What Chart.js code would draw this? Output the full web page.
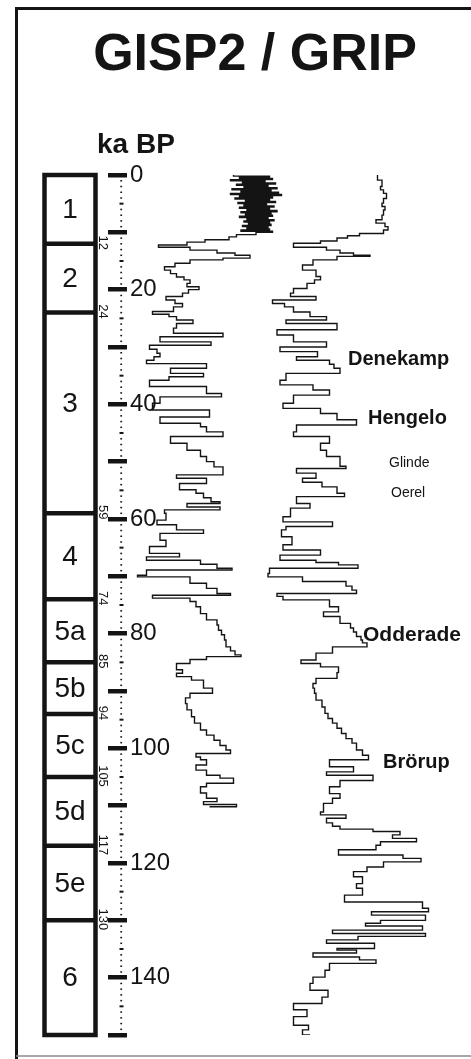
<!DOCTYPE html>
<html>
<head>
<meta charset="utf-8">
<script src="https://cdn.jsdelivr.net/npm/chart.js@4.4.1/dist/chart.umd.min.js"></script>
<style>
  html, body { margin: 0; padding: 0; background: #fff; }
  canvas { display: block; }
</style>
</head>
<body>
<canvas id="ice" width="471" height="1059"></canvas>
<script>
// GISP2 delta-18O (permil) against age (ka BP)
const gisp2Age = [
  0.0, 0.2, 0.4, 0.6, 0.8, 1.0, 1.2, 1.4, 1.6, 1.8, 2.0, 2.2, 2.4, 2.6, 2.8, 3.0, 3.2, 3.4, 3.6, 3.8,
  4.0, 4.2, 4.4, 4.6, 4.8, 5.0, 5.2, 5.4, 5.6, 5.8, 6.0, 6.2, 6.4, 6.6, 6.8, 7.0, 7.2, 7.4, 7.6, 7.8,
  8.0, 8.2, 8.4, 8.6, 8.8, 9.0, 9.2, 9.4, 9.6, 9.8, 10.0,
  10.4, 10.8, 11.3, 11.7, 12.2, 12.6, 13.1, 13.6, 14.0, 14.5, 14.8, 15.4, 16.0, 16.6, 17.2, 17.8, 18.3, 18.9, 19.5, 20.0,
  20.6, 21.2, 21.8, 22.4, 23.0, 23.8, 24.3, 24.7, 25.3, 25.9, 26.7, 27.6, 28.2, 29.1, 29.7, 30.4, 31.1, 31.7, 32.3, 32.9,
  33.7, 34.6, 35.2, 35.8, 36.9, 38.1, 38.7, 39.8, 41.0, 42.2, 43.3, 43.9, 44.8, 45.6, 46.8, 48.0, 49.1, 50.0, 50.9, 52.3,
  52.9, 53.8, 54.9, 55.5, 56.3, 57.0, 57.3, 57.9, 58.4, 59.0, 60.2, 61.0, 61.9, 62.5, 63.7, 64.8, 66.0, 66.6, 67.2, 67.9,
  68.6, 68.9, 69.8, 70.1, 71.2, 72.1, 73.0, 73.3, 73.8, 74.4, 75.3, 76.5, 77.6, 78.5, 79.4, 80.2, 81.1, 82.3, 83.0, 83.7,
  84.0, 84.5, 85.2, 86.3, 86.9, 87.5, 88.1, 89.5, 90.4, 91.2, 92.2, 93.3, 94.5, 95.6, 96.8, 97.7, 98.6, 99.5, 100.3, 100.9,
  101.5, 102.0, 102.9, 103.8, 104.7, 105.2, 106.1, 106.7, 107.8, 108.7, 109.3, 109.8, 110.2
];
const gisp2D18O = [
  -36.7, -34.3, -36.3, -34.1, -36.9, -34.6, -36.1, -33.9, -36.5, -34.4, -36.0, -33.8, -36.8, -34.2, -36.2, -33.7, -36.9, -33.5, -36.3, -34.1,
  -36.6, -34.3, -35.9, -33.9, -36.4, -34.5, -36.0, -34.0, -36.3, -34.3, -35.8, -33.8, -36.2, -34.2, -35.9, -34.1, -36.3, -34.4, -35.8, -34.0,
  -36.0, -34.3, -35.7, -34.2, -36.1, -34.4, -35.8, -34.3, -36.2, -34.1, -35.2,
  -36.5, -37.0, -38.6, -39.8, -41.7, -39.6, -37.8, -36.6, -35.6, -37.4, -39.6, -40.6, -41.3, -40.9, -40.5, -40.0, -39.6, -39.8, -39.0, -39.7,
  -40.1, -41.2, -40.6, -40.1, -40.7, -42.1, -41.0, -40.5, -39.4, -40.5, -40.7, -37.4, -41.6, -38.2, -42.3, -41.8, -41.6, -42.0, -42.5, -38.5,
  -40.9, -38.7, -41.0, -42.3, -38.5, -37.5, -41.6, -42.1, -38.3, -41.6, -38.9, -38.5, -37.4, -40.9, -39.8, -38.9, -38.5, -38.0, -37.4, -40.5,
  -38.5, -40.3, -39.2, -38.7, -38.2, -37.6, -39.8, -37.6, -41.3, -41.2, -41.8, -40.5, -38.7, -41.6, -41.2, -42.3, -40.3, -42.5, -38.9, -37.8,
  -36.8, -42.5, -43.1, -39.6, -38.5, -37.8, -36.9, -42.1, -39.6, -39.2, -38.9, -38.5, -37.8, -37.7, -37.5, -37.3, -37.2, -36.9, -36.6, -36.2,
  -38.5, -39.6, -40.5, -40.1, -40.5, -39.5, -38.7, -38.1, -39.6, -39.9, -39.8, -39.5, -39.3, -38.9, -38.5, -38.0, -37.6, -37.2, -36.9, -39.2,
  -38.9, -38.5, -39.2, -38.5, -37.6, -36.7, -38.5, -38.9, -38.5, -37.8, -38.7, -36.5, -38.3
];

// GRIP delta-18O (permil) against age (ka BP)
const gripAge = [
  0.0, 0.9, 2.0, 2.6, 3.2, 4.1, 4.9, 5.5, 6.1, 7.0, 7.8, 8.4, 9.0, 9.6, 10.2, 10.6, 11.0, 11.5, 11.9, 12.6,
  13.1, 13.6, 14.0, 14.2, 14.8, 15.7, 16.6, 17.7, 18.3, 18.9, 19.8, 20.6, 21.2, 21.8, 22.4, 23.0, 23.9, 24.7, 25.3, 25.9,
  27.0, 27.9, 29.1, 30.0, 30.8, 31.7, 32.3, 33.0, 33.7, 34.6, 35.8, 36.6, 37.5, 38.4, 39.8, 40.7, 41.6, 42.7, 43.6, 44.8,
  45.6, 46.8, 48.0, 49.1, 49.7, 50.8, 51.2, 52.0, 52.9, 53.6, 54.4, 55.5, 56.1, 57.3, 58.1, 59.6, 60.5, 61.3, 61.9, 63.1,
  64.5, 65.4, 66.3, 67.2, 67.6, 68.0, 68.6, 69.5, 70.1, 70.9, 71.7, 72.4, 73.0, 73.5, 74.1, 75.3, 76.2, 77.0, 78.2, 79.0,
  79.7, 80.5, 81.1, 81.6, 82.3, 83.4, 84.6, 85.2, 85.8, 86.8, 87.8, 88.7, 89.5, 90.4, 91.6, 92.8, 93.9, 94.8, 95.6, 96.5,
  97.4, 98.3, 99.1, 100.3, 101.2, 102.0, 103.2, 104.1, 104.7, 105.6, 106.7, 107.9, 108.7, 109.6, 111.1, 111.6, 112.2, 113.0, 113.6, 114.1,
  114.5, 115.1, 115.7, 116.3, 116.9, 117.7, 118.6, 119.2, 119.8, 120.7, 121.5, 122.4, 123.6, 124.4, 125.6, 126.8, 127.9, 128.5, 129.1, 130.0,
  130.5, 131.0, 131.7, 132.3, 132.8, 133.4, 134.0, 134.9, 135.2, 135.7, 136.4, 136.9, 137.5, 138.7, 139.9, 141.0, 142.2, 143.4, 144.5, 145.6,
  146.8, 148.3, 149.1, 150.0
];
const gripD18O = [
  -34.8, -34.5, -34.6, -34.4, -34.2, -34.4, -34.5, -34.3, -34.4, -34.5, -34.9, -34.3, -34.1, -34.4, -36.0, -36.8, -37.5, -38.6, -40.4, -38.2,
  -37.3, -36.4, -35.3, -37.5, -39.1, -39.8, -38.9, -38.6, -39.0, -39.5, -40.4, -40.6, -38.9, -41.8, -41.0, -40.4, -39.3, -38.2, -40.9, -37.5,
  -41.5, -40.4, -38.2, -41.3, -38.8, -40.2, -38.0, -37.7, -37.3, -40.9, -41.3, -39.1, -38.0, -40.4, -41.1, -38.6, -37.5, -36.2, -40.2, -40.4,
  -38.0, -38.6, -38.2, -37.3, -37.3, -36.9, -40.2, -38.9, -39.8, -38.5, -37.5, -37.0, -40.2, -39.3, -40.6, -41.1, -37.8, -40.9, -41.2, -40.5,
  -41.1, -38.6, -41.3, -38.9, -37.4, -36.1, -42.0, -42.1, -39.8, -36.9, -36.5, -36.2, -41.5, -41.1, -38.0, -37.4, -38.4, -37.3, -36.6, -36.4,
  -36.2, -35.9, -35.8, -35.5, -37.8, -38.9, -39.9, -38.6, -37.4, -37.5, -38.9, -39.1, -39.0, -38.9, -38.5, -38.3, -38.1, -37.8, -37.5, -37.2,
  -36.9, -36.5, -36.2, -35.8, -35.4, -38.0, -36.4, -38.2, -35.1, -37.3, -38.0, -37.3, -37.8, -38.4, -38.6, -36.9, -38.2, -37.8, -37.3, -35.1,
  -33.3, -33.8, -32.2, -34.6, -34.9, -37.4, -33.1, -31.9, -34.4, -35.5, -36.4, -35.8, -36.2, -35.8, -37.0, -31.8, -31.4, -35.2, -31.6, -34.6,
  -35.6, -31.8, -37.8, -31.6, -36.1, -38.2, -35.0, -37.5, -36.2, -39.1, -36.0, -34.9, -38.0, -38.3, -39.1, -39.3, -38.1, -38.5, -40.4, -39.5,
  -40.4, -39.4, -39.8, -39.3
];

// marine isotope stages and their boundaries (ka)
const stageBounds = [0, 12, 24, 59, 74, 85, 94, 105, 117, 130, 150];
const stageNames = ['1', '2', '3', '4', '5a', '5b', '5c', '5d', '5e', '6'];

// interstadial names and the age they are written at
const eventNames = ['Denekamp', 'Hengelo', 'Glinde', 'Oerel', 'Odderade', 'Brörup'];
const eventAges = [33.1, 43.4, 50.9, 56.2, 81.3, 103.4];

const FONT = '"Liberation Sans", Arial, Helvetica, sans-serif';
const INK = '#141414';

const decor = {
  id: 'decor',
  beforeDatasetsDraw(chart) {
    const ctx = chart.ctx;
    const y = chart.scales.y;
    ctx.save();
    // frame
    ctx.strokeStyle = INK;
    ctx.lineWidth = 3;
    ctx.beginPath();
    ctx.moveTo(16.5, 1059);
    ctx.lineTo(16.5, 8.5);
    ctx.lineTo(471, 8.5);
    ctx.stroke();
    ctx.strokeStyle = '#8a8a8a';
    ctx.lineWidth = 1.5;
    ctx.beginPath();
    ctx.moveTo(16, 1056);
    ctx.lineTo(471, 1056);
    ctx.stroke();

    // title + unit
    ctx.fillStyle = INK;
    ctx.textAlign = 'center';
    ctx.textBaseline = 'alphabetic';
    ctx.font = 'bold 52px ' + FONT;
    ctx.fillText('GISP2 / GRIP', 255, 70);
    ctx.textAlign = 'left';
    ctx.font = 'bold 28px ' + FONT;
    ctx.fillText('ka BP', 97, 153);

    // dotted age axis (1 ka dots, 5 ka dashes)
    for (let a = 0; a <= 150; a++) {
      if (a % 10 === 0) continue;
      const py = y.getPixelForValue(a);
      if (a % 5 === 0) ctx.fillRect(119.5, py - 1, 4, 2);
      else ctx.fillRect(120.3, py - 0.7, 1.8, 1.5);
    }

    // stage column
    const left = 44.5, right = 95.5;
    const top = y.getPixelForValue(stageBounds[0]);
    const bottom = y.getPixelForValue(stageBounds[stageBounds.length - 1]);
    ctx.strokeStyle = INK;
    ctx.lineWidth = 4.5;
    ctx.strokeRect(left, top, right - left, bottom - top);
    ctx.beginPath();
    for (let i = 1; i < stageBounds.length - 1; i++) {
      const py = y.getPixelForValue(stageBounds[i]);
      ctx.moveTo(left, py);
      ctx.lineTo(right, py);
    }
    ctx.stroke();

    ctx.font = '28px ' + FONT;
    ctx.textAlign = 'center';
    ctx.textBaseline = 'middle';
    stageNames.forEach((name, i) => {
      const py = (y.getPixelForValue(stageBounds[i]) + y.getPixelForValue(stageBounds[i + 1])) / 2;
      ctx.fillText(name, 70, name === '3' ? py - 9 : py + 1);
    });

    // boundary ages, written downwards
    ctx.font = '13px ' + FONT;
    for (let i = 1; i < stageBounds.length - 1; i++) {
      const py = y.getPixelForValue(stageBounds[i]);
      ctx.save();
      ctx.translate(103, py - 1);
      ctx.rotate(Math.PI / 2);
      ctx.fillText(String(stageBounds[i]), 0, 0);
      ctx.restore();
    }
    ctx.restore();
  },
  afterDatasetsDraw(chart) {
    const ctx = chart.ctx;
    const y = chart.scales.y;
    const look = [
      { x: 348, font: 'bold 20px ' },
      { x: 368, font: 'bold 20px ' },
      { x: 389, font: '14px ' },
      { x: 391, font: '14px ' },
      { x: 363, font: 'bold 21px ' },
      { x: 383, font: 'bold 20px ' }
    ];
    ctx.save();
    ctx.fillStyle = INK;
    ctx.textAlign = 'left';
    ctx.textBaseline = 'alphabetic';
    eventNames.forEach((name, i) => {
      ctx.font = look[i].font + FONT;
      ctx.fillText(name, look[i].x, y.getPixelForValue(eventAges[i]));
    });
    ctx.restore();
  }
};

const curve = (ages, vals) => ages.map((a, i) => ({ x: vals[i], y: a }));

new Chart(document.getElementById('ice'), {
  type: 'line',
  data: {
    datasets: [
      {
        label: 'GISP2',
        data: curve(gisp2Age, gisp2D18O),
        xAxisID: 'x',
        yAxisID: 'y',
        stepped: 'after',
        borderColor: INK,
        borderWidth: 1.4,
        pointRadius: 0,
        fill: false
      },
      {
        label: 'GRIP',
        data: curve(gripAge, gripD18O),
        xAxisID: 'x2',
        yAxisID: 'y',
        stepped: 'after',
        borderColor: INK,
        borderWidth: 1.4,
        pointRadius: 0,
        fill: false
      }
    ]
  },
  options: {
    responsive: false,
    animation: false,
    devicePixelRatio: 1,
    layout: { padding: { left: 105, right: 11, top: 175, bottom: 24 } },
    plugins: {
      legend: { display: false },
      tooltip: { enabled: false }
    },
    scales: {
      x: { type: 'linear', min: -43.8, max: -21.6, display: false },
      x2: { type: 'linear', axis: 'x', min: -51.5, max: -29.3, display: false },
      y: {
        type: 'linear',
        position: 'left',
        reverse: true,
        min: 0,
        max: 150,
        afterFit: s => { s.width = 22; },
        border: { display: false },
        grid: { drawOnChartArea: false, drawTicks: true, tickLength: 19, lineWidth: 4.5, color: INK },
        ticks: {
          stepSize: 10,
          autoSkip: false,
          mirror: true,
          padding: 3,
          color: INK,
          font: { family: FONT, size: 24 },
          callback: v => (v % 20 === 0 && v < 150) ? String(v) : ''
        }
      }
    }
  },
  plugins: [decor]
});
</script>
</body>
</html>
